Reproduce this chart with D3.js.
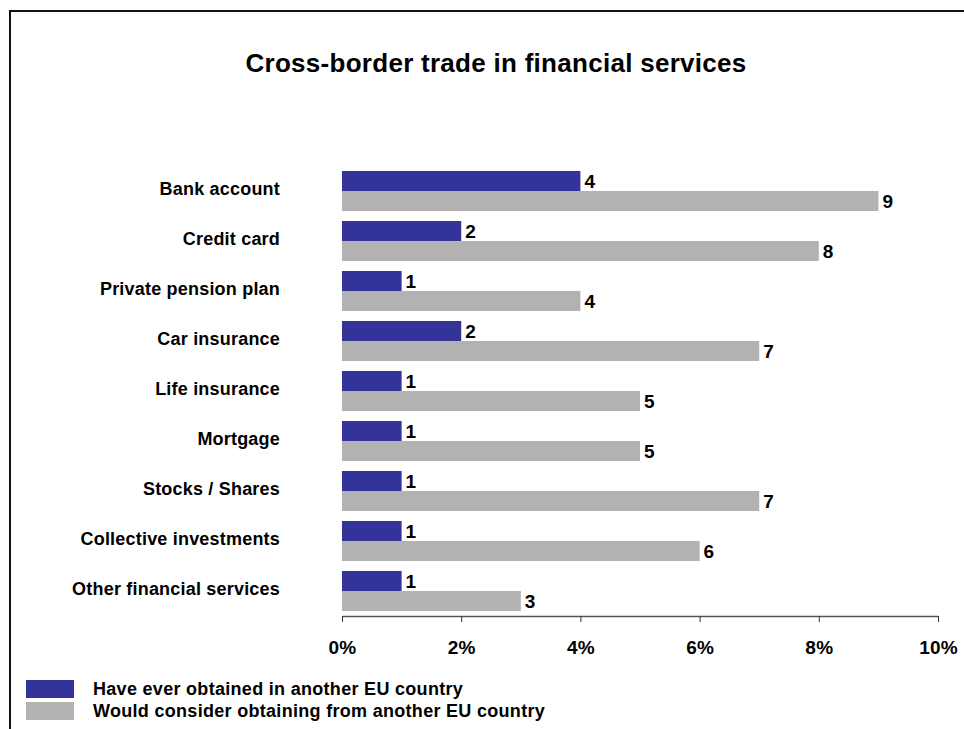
<!DOCTYPE html>
<html>
<head>
<meta charset="utf-8">
<script src="https://cdn.jsdelivr.net/npm/d3@7"></script>
<style>
  html, body { margin: 0; padding: 0; background: #fff; }
  svg { display: block; font-family: "Liberation Sans", Arial, sans-serif; }
</style>
</head>
<body>
<svg id="chart" width="964" height="729"></svg>
<script>
// Financial services categories (top to bottom)
const categories = [
  "Bank account",
  "Credit card",
  "Private pension plan",
  "Car insurance",
  "Life insurance",
  "Mortgage",
  "Stocks / Shares",
  "Collective investments",
  "Other financial services"
];
// Share of respondents, %
const everObtained = [4, 2, 1, 2, 1, 1, 1, 1, 1];
const wouldConsider = [9, 8, 4, 7, 5, 5, 7, 6, 3];
const seriesNames = [
  "Have ever obtained in another EU country",
  "Would consider obtaining from another EU country"
];
const seriesColors = ["#333399", "#b2b2b2"];
const xTicks = [0, 2, 4, 6, 8, 10];

const svg = d3.select("#chart");

// Outer frame (left and top edges)
svg.append("path")
  .attr("d", "M10,729 V11 H964")
  .attr("fill", "none")
  .attr("stroke", "#111")
  .attr("stroke-width", 2);

// Title
svg.append("text")
  .attr("x", 496)
  .attr("y", 72)
  .attr("text-anchor", "middle")
  .attr("font-size", 26)
  .attr("letter-spacing", 0.28)
  .attr("font-weight", "bold")
  .attr("fill", "#000")
  .text("Cross-border trade in financial services");

const x = d3.scaleLinear().domain([0, 10]).range([342, 938]);
const y = d3.scaleBand().domain(categories).range([166, 616])
  .paddingInner(0.2).paddingOuter(0.1);
const sub = d3.scaleBand().domain([0, 1]).range([0, y.bandwidth()]);

const rows = categories.map((c, i) => ({ c, vals: [everObtained[i], wouldConsider[i]] }));

const g = svg.append("g");
const row = g.selectAll("g.row").data(rows).join("g")
  .attr("class", "row")
  .attr("transform", d => `translate(0,${y(d.c)})`);

row.selectAll("rect").data(d => d.vals).join("rect")
  .attr("x", x(0))
  .attr("y", (d, i) => sub(i))
  .attr("width", d => x(d) - x(0))
  .attr("height", sub.bandwidth())
  .attr("fill", (d, i) => seriesColors[i]);

row.selectAll("text.val").data(d => d.vals).join("text")
  .attr("class", "val")
  .attr("x", d => x(d) + 4)
  .attr("y", (d, i) => sub(i) + sub.bandwidth() / 2)
  .attr("dy", "0.36em")
  .attr("font-size", 19)
  .attr("font-weight", "bold")
  .attr("fill", "#000")
  .text(d => d);

// Category labels
g.selectAll("text.cat").data(categories).join("text")
  .attr("class", "cat")
  .attr("x", 280)
  .attr("y", d => y(d) + y.bandwidth() / 2 - 2)
  .attr("dy", "0.36em")
  .attr("text-anchor", "end")
  .attr("font-size", 18)
  .attr("letter-spacing", 0.2)
  .attr("font-weight", "bold")
  .attr("fill", "#000")
  .text(d => d);

// X axis
const axis = svg.append("g")
  .attr("transform", "translate(0,616)")
  .call(d3.axisBottom(x).tickValues(xTicks).tickSize(6).tickSizeOuter(0)
    .tickFormat(d => d + "%").tickPadding(19));
axis.select(".domain").attr("stroke", "#555").attr("stroke-width", 1.5);
axis.selectAll(".tick line").attr("stroke", "#333");
axis.selectAll(".tick text")
  .attr("font-size", 19)
  .attr("letter-spacing", 0.2)
  .attr("font-weight", "bold")
  .attr("font-family", "Liberation Sans, Arial, sans-serif")
  .attr("fill", "#000");

// Legend
const legend = svg.append("g");
const ly = [680, 702];
seriesNames.forEach((name, i) => {
  legend.append("rect")
    .attr("x", 26).attr("y", ly[i])
    .attr("width", 48).attr("height", 18)
    .attr("fill", seriesColors[i]);
  legend.append("text")
    .attr("x", 93).attr("y", ly[i] + 9)
    .attr("dy", "0.36em")
    .attr("font-size", 18)
    .attr("letter-spacing", 0.3)
    .attr("font-weight", "bold")
    .attr("fill", "#000")
    .text(name);
});
</script>
</body>
</html>
